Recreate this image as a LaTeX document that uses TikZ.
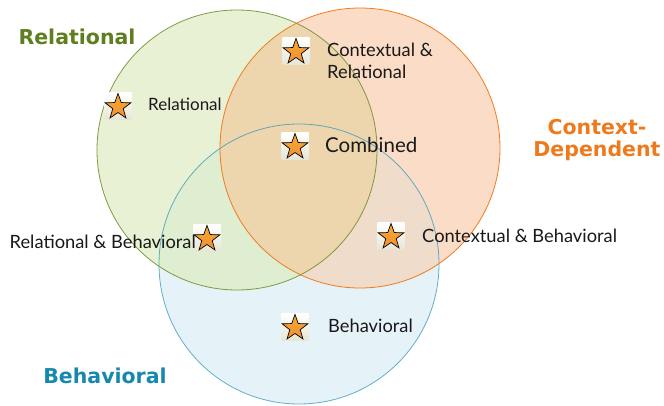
\documentclass[tikz,border=0pt]{standalone}
\usepackage{fontspec}
\setmainfont{Lato}
\newfontfamily\titlefont{DejaVu Sans}
\usetikzlibrary{shapes.geometric}
\definecolor{gline}{HTML}{6E8B2A}
\definecolor{oline}{HTML}{EE7D22}
\definecolor{bline}{HTML}{3397B9}
\definecolor{gfill}{HTML}{E8F1D3}
\definecolor{ofill}{HTML}{FBDCC6}
\definecolor{bfill}{HTML}{E5F2F8}
\definecolor{gofill}{HTML}{EDD5AE}
\definecolor{gbfill}{HTML}{DFEED0}
\definecolor{obfill}{HTML}{EFDCCB}
\definecolor{gtitle}{HTML}{5F7E1E}
\definecolor{otitle}{HTML}{EE7A1E}
\definecolor{btitle}{HTML}{1688AE}
\definecolor{starfill}{HTML}{F2963A}
\tikzset{
  setcircle/.style={circle, minimum size=280pt, inner sep=0pt},
  starbg/.style={rectangle, minimum size=27pt, inner sep=0pt, top color=white, bottom color=white!92!yellow!80!gray, draw=none},
  starmark/.style={star, star points=5, star point ratio=2.45, minimum size=27pt, inner sep=0pt, draw=black, line width=0.7pt, top color=starfill!80!yellow, bottom color=starfill!95!red},
  lab/.style={font=\fontsize{18.3}{22}\selectfont, text=black!90, inner sep=0pt, anchor=west},
  settitle/.style={font=\titlefont\bfseries\fontsize{20.5}{24}\selectfont, inner sep=0pt, align=center}
}
\begin{document}
\begin{tikzpicture}[x=1pt,y=-1pt]
\useasboundingbox (0,0) rectangle (664,405);
% circles
\node[setcircle] (cg) at (237,150) {};
\node[setcircle] (co) at (360,148) {};
\node[setcircle] (cb) at (299,264) {};
\fill[bfill] (cb.center) circle[radius=140];
\fill[gfill] (cg.center) circle[radius=140];
\fill[ofill] (co.center) circle[radius=140];
\begin{scope}
  \clip (cg.center) circle[radius=140];
  \fill[gbfill] (cb.center) circle[radius=140];
\end{scope}
\begin{scope}
  \clip (co.center) circle[radius=140];
  \fill[obfill] (cb.center) circle[radius=140];
\end{scope}
\begin{scope}
  \clip (cg.center) circle[radius=140];
  \fill[gofill] (co.center) circle[radius=140];
\end{scope}
\draw[bline, line width=0.8pt, draw opacity=0.75] (cb.center) circle[radius=140];
\draw[gline, line width=0.8pt, draw opacity=0.85] (cg.center) circle[radius=140];
\draw[oline, line width=0.8pt] (co.center) circle[radius=140];
% titles
\node[settitle, text=gtitle] (tg) at (77,37) {Relational};
\node[settitle, text=otitle] (to) at (597,140) {Context-\\[-2pt]Dependent};
\node[settitle, text=btitle] (tb) at (105,376) {Behavioral};
% stars
\foreach \n/\x/\y in {s1/118/106, s2/296/51, s3/295/146, s4/207/238, s5/391/236, s6/295/327}{
  \node[starbg] (\n bg) at (\x,\y) {};
  \node[starmark] (\n) at (\x,\y+1) {};
}
% labels
\node[lab, font=\fontsize{17}{20}\selectfont] (l1) at (148,104) {Relational};
\node[lab, align=left] (l2) at (327,61) {Contextual \&\\Relational};
\node[lab, font=\fontsize{20.5}{24}\selectfont] (l3) at (325,145) {Combined};
\node[lab, anchor=east] (l4) at (196,242) {Relational \& Behavioral};
\node[lab] (l5) at (422,236) {Contextual \& Behavioral};
\node[lab] (l6) at (328,326) {Behavioral};
\end{tikzpicture}
\end{document}
